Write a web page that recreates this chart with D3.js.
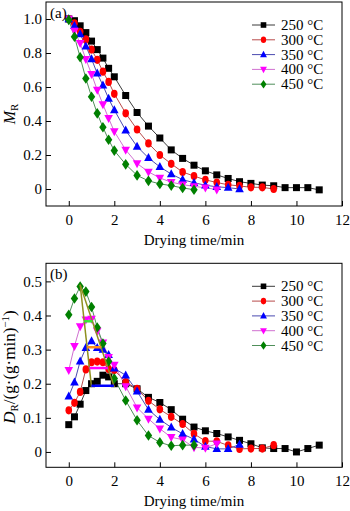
<!DOCTYPE html>
<html lang="en">
<head>
  <meta charset="UTF-8">
  <title>Drying curves</title>
  <style>
    body { margin: 0; background: #fff; }
    svg text { font-family: "Liberation Serif", "Times New Roman", serif; fill: #000; }
    .frame { fill: none; stroke: #000; stroke-width: 1px; }
    .axis text { font-size: 15px; }
    .axis line { stroke: #000; }
  </style>
</head>
<body>
  <svg id="chart" width="350" height="511"></svg>

  <script src="https://d3js.org/d3.v7.min.js"></script>
  <script>
    // sampling times (min)
    const tEarly = [0, 0.25, 0.5, 0.75, 1, 1.25, 1.5, 1.75, 2];
    const tLate = [2.5, 3, 3.5, 4, 4.5, 5, 5.5, 6, 6.5, 7, 7.5, 8, 8.5, 9, 9.5, 10, 10.5, 11];
    const times = tEarly.concat(tLate);

    const temps = ['250 °C', '300 °C', '350 °C', '400 °C', '450 °C'];
    const colors = ['#000000', '#ff0000', '#0000ff', '#ff00ff', '#008000'];
    const lineColors = ['#3a3a3a', '#b84a4a', '#4a4ab0', '#d070d0', '#4f8f5a'];
    const shapes = ['square', 'circle', 'triangle', 'triangleDown', 'diamond'];

    // (a) moisture ratio MR
    const mr250 = [1.0, 0.99, 0.96, 0.92, 0.87, 0.82, 0.77, 0.71, 0.66, 0.55, 0.45, 0.37, 0.30, 0.23, 0.18, 0.14, 0.107, 0.083, 0.062, 0.043, 0.033, 0.023, 0.019, 0.008, 0.008, 0.008, -0.005];
    const mr300 = [1.0, 0.975, 0.925, 0.88, 0.82, 0.76, 0.69, 0.63, 0.56, 0.445, 0.35, 0.268, 0.2, 0.148, 0.10, 0.076, 0.054, 0.038, 0.025, 0.018, 0.01, 0.01, 0.0];
    const mr350 = [1.0, 0.96, 0.912, 0.84, 0.765, 0.68, 0.61, 0.532, 0.465, 0.345, 0.25, 0.183, 0.13, 0.088, 0.055, 0.037, 0.022, 0.013, 0.008, 0.0];
    const mr400 = [1.0, 0.93, 0.857, 0.763, 0.676, 0.582, 0.498, 0.416, 0.338, 0.23, 0.15, 0.101, 0.065, 0.04, 0.026, 0.015, 0.008, -0.004];
    const mr450 = [0.995, 0.896, 0.775, 0.65, 0.543, 0.445, 0.363, 0.29, 0.226, 0.145, 0.08, 0.048, 0.03, 0.02, 0.006, -0.004];

    // (b) drying rate DR
    const dr250 = [0.08, 0.103, 0.14, 0.18, 0.20, 0.207, 0.225, 0.22, 0.20, 0.2, 0.185, 0.16, 0.145, 0.124, 0.096, 0.073, 0.062, 0.054, 0.044, 0.034, 0.024, 0.012, 0.01, 0.01, 0.0, 0.01, 0.02];
    const dr300 = [0.122, 0.144, 0.176, 0.242, 0.263, 0.265, 0.263, 0.243, 0.24, 0.205, 0.185, 0.15, 0.125, 0.103, 0.082, 0.053, 0.032, 0.031, 0.019, 0.009, 0.01, 0.01, 0.02];
    const dr350 = [0.163, 0.204, 0.266, 0.305, 0.325, 0.305, 0.30, 0.285, 0.245, 0.225, 0.178, 0.124, 0.095, 0.072, 0.053, 0.037, 0.016, 0.009, 0.009, 0.022];
    const dr400 = [0.24, 0.31, 0.368, 0.388, 0.39, 0.355, 0.32, 0.278, 0.255, 0.192, 0.13, 0.097, 0.068, 0.043, 0.036, 0.013, 0.012, 0.024];
    const dr450 = [0.402, 0.45, 0.485, 0.47, 0.425, 0.365, 0.318, 0.265, 0.215, 0.151, 0.093, 0.048, 0.028, 0.018, 0.02, 0.02];

    // (b) peak-shift guide: apex, two base points, and level bars
    const guideApex = [0.5, 0.49];
    const guideBase = [[1.0, 0.19], [2.0, 0.19]];
    const guideLevels = [0.383, 0.307, 0.246, 0.194];
    const guideColors = ['#33ee33', '#ff8c1a', '#ff00ff', '#0000ff'];

    const xTicks = [0, 2, 4, 6, 8, 10, 12];
    const yTicksA = [0, 0.2, 0.4, 0.6, 0.8, 1.0];
    const yTicksB = [0, 0.1, 0.2, 0.3, 0.4, 0.5];

    const svg = d3.select('#chart');

    function shapePath(shape, k) {
      k = k || 1;
      if (shape === 'square') { const s = 3.5 * k; return `M${-s},${-s}h${2 * s}v${2 * s}h${-2 * s}Z`; }
      if (shape === 'circle') { const rx = 3.3 * k, ry = 4.1 * k; return `M${-rx},0a${rx},${ry} 0 1,0 ${2 * rx},0a${rx},${ry} 0 1,0 ${-2 * rx},0Z`; }
      if (shape === 'triangle') return `M0,${-4.8 * k}L${4.3 * k},${3.2 * k}L${-4.3 * k},${3.2 * k}Z`;
      if (shape === 'triangleDown') return `M0,${4.8 * k}L${4.3 * k},${-3.2 * k}L${-4.3 * k},${-3.2 * k}Z`;
      return `M0,${-5.3 * k}L${3.7 * k},0L0,${5.3 * k}L${-3.7 * k},0Z`;
    }

    function panel(opts) {
      const x = d3.scaleLinear().domain([-1, 12]).range([46, 342]);
      const y = d3.scaleLinear().domain(opts.yDomain).range(opts.yRange);
      const g = svg.append('g');
      const top = opts.yRange[1], bottom = opts.yRange[0];

      g.append('g').attr('class', 'axis')
        .attr('transform', `translate(0,${bottom})`)
        .call(d3.axisBottom(x).tickValues(xTicks).tickSizeInner(-5).tickSizeOuter(0).tickPadding(8).tickFormat(d3.format('d')))
        .call(a => a.select('.domain').remove());

      g.append('g').attr('class', 'axis')
        .attr('transform', 'translate(46,0)')
        .call(d3.axisLeft(y).tickValues(opts.yTicks).tickSizeInner(-5).tickSizeOuter(0).tickPadding(4)
          .tickFormat(d => d === 0 ? '0' : d3.format('.1f')(d)))
        .call(a => a.select('.domain').remove());

      g.append('rect').attr('class', 'frame')
        .attr('x', 46).attr('y', top).attr('width', 296).attr('height', bottom - top);

      const line = d3.line().x(d => x(d[0])).y(d => y(d[1]));
      opts.series.forEach((vals, i) => {
        const pts = vals.map((v, j) => [times[j], v]);
        g.append('path').datum(pts)
          .attr('d', line).attr('fill', 'none')
          .attr('stroke', lineColors[i]).attr('stroke-width', 1);
      });
      opts.series.forEach((vals, i) => {
        const pts = vals.map((v, j) => [times[j], v]);
        g.append('g').selectAll('path').data(pts).join('path')
          .attr('transform', d => `translate(${x(d[0])},${y(d[1])})`)
          .attr('d', shapePath(shapes[i]))
          .attr('fill', colors[i]);
      });

      // legend
      const lg = g.append('g').attr('transform', `translate(0,${top + 23})`);
      temps.forEach((t, i) => {
        const row = lg.append('g').attr('transform', `translate(0,${i * 14.8})`);
        row.append('line').attr('x1', 252).attr('x2', 275).attr('y1', 0).attr('y2', 0)
          .attr('stroke', lineColors[i]).attr('stroke-width', 1);
        row.append('path').attr('transform', 'translate(263.5,0)')
          .attr('d', shapePath(shapes[i], 0.8)).attr('fill', colors[i]);
        row.append('text').attr('x', 281).attr('y', 5).attr('font-size', 15).text(t);
      });

      g.append('text').attr('x', 50).attr('y', top + 16).attr('font-size', 15).text(opts.tag);

      g.append('text').attr('x', 194).attr('y', bottom + 39)
        .attr('text-anchor', 'middle').attr('font-size', 15).text('Drying time/min');

      return { g, x, y };
    }

    panel({
      yDomain: [-0.1, 1.1], yRange: [206, 2], yTicks: yTicksA, tag: '(a)',
      series: [mr250, mr300, mr350, mr400, mr450]
    });

    const pb = panel({
      yDomain: [-0.045, 0.553], yRange: [467.3, 263.3], yTicks: yTicksB, tag: '(b)',
      series: [dr250, dr300, dr350, dr400, dr450]
    });

    // y-axis titles
    const ya = svg.append('text').attr('transform', 'translate(15,114) rotate(-90)')
      .attr('text-anchor', 'middle').attr('font-size', 16);
    ya.append('tspan').attr('font-style', 'italic').text('M');
    ya.append('tspan').attr('font-size', 11).attr('dy', 3).text('R');

    const yb = svg.append('text').attr('transform', 'translate(15,367) rotate(-90)')
      .attr('text-anchor', 'middle').attr('font-size', 17);
    yb.append('tspan').attr('font-style', 'italic').text('D');
    yb.append('tspan').attr('font-size', 11).attr('dy', 3).text('R');
    yb.append('tspan').attr('dy', -3).text('/(g·(g·min)');
    yb.append('tspan').attr('font-size', 11).attr('dy', -6).text('−1');
    yb.append('tspan').attr('dy', 6).text(')');

    // peak-shift guide in (b)
    const gx = pb.x, gy = pb.y;
    guideBase.forEach(b => {
      pb.g.append('line')
        .attr('x1', gx(guideApex[0])).attr('y1', gy(guideApex[1]))
        .attr('x2', gx(b[0])).attr('y2', gy(b[1]))
        .attr('stroke', '#8f8f1f').attr('stroke-width', 1.5);
    });
    const along = (b, lvl) => guideApex[0] + (guideApex[1] - lvl) / (guideApex[1] - b[1]) * (b[0] - guideApex[0]);
    guideLevels.forEach((lvl, i) => {
      pb.g.append('line')
        .attr('x1', gx(along(guideBase[0], lvl))).attr('x2', gx(along(guideBase[1], lvl)))
        .attr('y1', gy(lvl)).attr('y2', gy(lvl))
        .attr('stroke', guideColors[i]).attr('stroke-width', 2.5);
    });
  </script>
</body>
</html>
